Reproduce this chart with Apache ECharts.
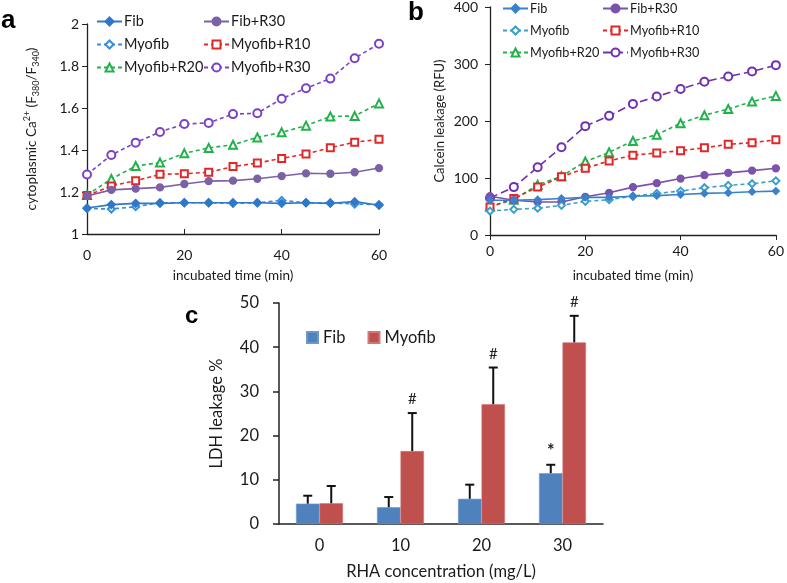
<!DOCTYPE html>
<html><head><meta charset="utf-8">
<script src="https://cdn.jsdelivr.net/npm/echarts@6/dist/echarts.min.js"></script>
<style>
html,body{margin:0;padding:0;background:#fff;width:787px;height:583px;overflow:hidden}
.c{position:absolute;left:0;top:0;width:787px;height:583px}
</style></head>
<body>
<div id="ca" class="c"></div><div id="cb" class="c"></div><div id="cc" class="c"></div>
<script>
// ---------- data ----------
const timeMin = [0,5,10,15,20,25,30,35,40,45,50,55,60];
// panel a : cytoplasmic Ca2+ ratio
const aFib        = [1.124,1.140,1.146,1.146,1.149,1.149,1.149,1.149,1.146,1.149,1.146,1.154,1.137];
const aFibR30     = [1.181,1.210,1.216,1.222,1.238,1.252,1.254,1.263,1.276,1.289,1.287,1.294,1.314];
const aMyofib     = [1.121,1.119,1.130,1.149,1.149,1.149,1.146,1.149,1.160,1.149,1.149,1.143,1.140];
const aMyofibR10  = [1.183,1.229,1.254,1.284,1.287,1.294,1.321,1.338,1.360,1.381,1.411,1.437,1.451];
const aMyofibR20  = [1.186,1.262,1.324,1.340,1.384,1.410,1.425,1.460,1.484,1.516,1.560,1.562,1.622];
const aMyofibR30  = [1.283,1.376,1.435,1.486,1.524,1.529,1.571,1.575,1.644,1.694,1.740,1.837,1.906];
// panel b : calcein leakage (RFU)
const bFib        = [61,61,62,64,66,66,68,69,71,73,74,76,77];
const bFibR30     = [68,61,58,58,67,74,84,91,99,105,109,113,117];
const bMyofib     = [42,45,47,52,59,62,68,73,77,83,87,90,95];
const bMyofibR10  = [49,64,84,102,117,130,140,144,148,153,159,162,167];
const bMyofibR20  = [50,62,88,103,129,145,165,176,196,210,221,234,244];
const bMyofibR30  = [65,84,119,154,191,209,230,243,256,269,278,287,298];
// panel c : LDH leakage %
const rhaConc     = ['0','10','20','30'];
const cFib        = [4.6,3.8,5.7,11.5];
const cFibErr     = [1.8,2.3,3.2,1.9];
const cMyofib     = [4.7,16.5,27.1,41.1];
const cMyofibErr  = [3.9,8.6,8.3,6.0];
const cFibMark    = ['','','','*'];
const cMyofibMark = ['','#','#','#'];

const FONT = 'Lato';
const TXT = '#1a1a1a';
const AX = '#222';

function pairs(arr){ return arr.map((v,i)=>[timeMin[i], v]); }

function lineSeries(name, data, color, symbol, dashed, size, dash){
  return {
    name, type:'line', data:pairs(data), symbol, symbolSize:size||7, showAllSymbol:true,
    lineStyle:{color, width:1.6, type: dashed ? (dash||[4,3]) : 'solid'},
    itemStyle:{color, borderColor:color, borderWidth:1.3},
    emphasis:{disabled:true}, animation:false
  };
}

function legends(positions, fs){
  return positions.map(p=>({
    data:[p.name], left:p.x, top:p.y, itemWidth:25, itemHeight:10, itemGap:0,
    textStyle:{fontFamily:FONT, fontSize:fs, color:TXT, padding:[0,0,0,-3]},
    selectedMode:false, padding:0
  }));
}

// ---------- panel a ----------
const colA = {fib:'#2F78C9', fibR30:'#7B62A6', myo:'#3A8CD6', r10:'#E02828', r20:'#22B24C', r30:'#7C42C6'};
const chartA = echarts.init(document.getElementById('ca'), null, {renderer:'canvas'});
chartA.setOption({
  animation:false,
  graphic:[{type:'text', left:1, top:8, style:{text:'a', font:'bold 26px Arial', fill:'#000'}}],
  grid:{left:87, top:24, width:292, height:210},
  legend: legends([
    {name:'Fib', x:96, y:14},{name:'Fib+R30', x:203, y:14},
    {name:'Myofib', x:96, y:37},{name:'Myofib+R10', x:203, y:37},
    {name:'Myofib+R20', x:96, y:60},{name:'Myofib+R30', x:203, y:60}
  ], 14.5),
  xAxis:{type:'value', min:0, max:60, interval:20,
    name:'incubated time (min)', nameLocation:'middle', nameGap:35,
    nameTextStyle:{fontFamily:FONT, fontSize:13.5, color:TXT},
    axisLine:{lineStyle:{color:AX, width:1.3}}, axisTick:{inside:true, length:5, lineStyle:{color:AX}},
    axisLabel:{fontFamily:FONT, fontSize:14, color:TXT, margin:14}, splitLine:{show:false}},
  yAxis:{type:'value', min:1, max:2, interval:0.2,
    name:'{n|cytoplasmic Ca}{sup|2+}{n| (F}{sub|380}{n|/F}{sub|340}{n|)}', nameLocation:'middle', nameGap:46,
    nameTextStyle:{fontFamily:FONT, fontSize:13.5, color:TXT, rich:{
      n:{fontFamily:FONT, fontSize:13.5, color:TXT, lineHeight:18},
      sup:{fontFamily:FONT, fontSize:9, color:TXT, verticalAlign:'top', lineHeight:18},
      sub:{fontFamily:FONT, fontSize:9, color:TXT, verticalAlign:'bottom', lineHeight:18}}},
    axisLine:{show:true, lineStyle:{color:AX, width:1.3}}, axisTick:{show:true, length:5, lineStyle:{color:AX}},
    axisLabel:{fontFamily:FONT, fontSize:14, color:TXT, margin:8,
      formatter:v=>String(Math.round(v*10)/10)}, splitLine:{show:false}},
  series:[
    lineSeries('Myofib+R30', aMyofibR30, colA.r30, 'emptyCircle', true, 8),
    lineSeries('Myofib+R20', aMyofibR20, colA.r20, 'emptyTriangle', true, 8),
    lineSeries('Myofib+R10', aMyofibR10, colA.r10, 'emptyRect', true, 7),
    lineSeries('Fib+R30', aFibR30, colA.fibR30, 'circle', false, 7),
    lineSeries('Myofib', aMyofib, colA.myo, 'emptyDiamond', true, 7),
    lineSeries('Fib', aFib, colA.fib, 'diamond', false, 8)
  ]
});

// ---------- panel b ----------
const colB = {fib:'#3A82CC', fibR30:'#7B52AE', myo:'#3C9EC8', r10:'#E02828', r20:'#22B24C', r30:'#7030B0'};
const chartB = echarts.init(document.getElementById('cb'), null, {renderer:'canvas'});
chartB.setOption({
  animation:false,
  graphic:[{type:'text', left:408, top:0, style:{text:'b', font:'bold 26px Arial', fill:'#000'}}],
  grid:{left:490, top:6, width:288, height:229},
  legend: legends([
    {name:'Fib', x:502, y:2},{name:'Fib+R30', x:602, y:2},
    {name:'Myofib', x:502, y:24},{name:'Myofib+R10', x:602, y:24},
    {name:'Myofib+R20', x:502, y:46},{name:'Myofib+R30', x:602, y:46}
  ], 12.7),
  xAxis:{type:'value', min:0, max:60, interval:20,
    name:'incubated time (min)', nameLocation:'middle', nameGap:34,
    nameTextStyle:{fontFamily:FONT, fontSize:13.5, color:TXT},
    axisLine:{lineStyle:{color:AX, width:1.3}}, axisTick:{length:5, lineStyle:{color:AX}},
    axisLabel:{fontFamily:FONT, fontSize:14, color:TXT, margin:9}, splitLine:{show:false}},
  yAxis:{type:'value', min:0, max:400, interval:100,
    name:'Calcein leakage (RFU)', nameLocation:'middle', nameGap:44,
    nameTextStyle:{fontFamily:FONT, fontSize:13, color:TXT},
    axisLine:{show:true, lineStyle:{color:AX, width:1.3}}, axisTick:{show:true, length:5, lineStyle:{color:AX}},
    axisLabel:{fontFamily:FONT, fontSize:14, color:TXT, margin:12}, splitLine:{show:false}},
  series:[
    lineSeries('Myofib+R30', bMyofibR30, colB.r30, 'emptyCircle', true, 8, [8,4]),
    lineSeries('Myofib+R20', bMyofibR20, colB.r20, 'emptyTriangle', true, 8),
    lineSeries('Myofib+R10', bMyofibR10, colB.r10, 'emptyRect', true, 7),
    lineSeries('Fib+R30', bFibR30, colB.fibR30, 'circle', false, 7),
    lineSeries('Myofib', bMyofib, colB.myo, 'emptyDiamond', true, 7),
    lineSeries('Fib', bFib, colB.fib, 'diamond', false, 7)
  ]
});

// ---------- panel c ----------
const GAP = 0.42;
function errSeries(vals, errs, marks, side){
  return {
    type:'custom', z:5, animation:false,
    renderItem(params, api){
      const i = api.value(0), v = api.value(1), e = api.value(2);
      const catW = api.size([1,0])[0];
      const bw = catW*(1-GAP)/2;
      const base = api.coord([i, v]);
      const x = base[0] + side*bw/2;
      const top = api.coord([i, v+e])[1];
      const ch = [
        {type:'line', shape:{x1:x, y1:base[1], x2:x, y2:top}, style:{stroke:'#111', lineWidth:2}},
        {type:'line', shape:{x1:x-4.5, y1:top, x2:x+4.5, y2:top}, style:{stroke:'#111', lineWidth:2}}
      ];
      const m = marks[params.dataIndex];
      if (m) ch.push({type:'text', x:x, y:top-(m==='*'?5:6), style:{text:m, fill:'#222',
        font:(m==='*'?'bold 18px ':'15px ')+FONT, textAlign:'center', textVerticalAlign:'bottom'}});
      return {type:'group', children:ch};
    },
    data: vals.map((v,i)=>[i, v, errs[i]])
  };
}
const chartC = echarts.init(document.getElementById('cc'), null, {renderer:'canvas'});
chartC.setOption({
  animation:false,
  graphic:[{type:'text', left:185, top:304, style:{text:'c', font:'bold 24px Arial', fill:'#000'}}],
  grid:{left:279, top:303, width:324, height:221},
  legend:{data:['Fib','Myofib'], left:306, top:329, itemWidth:11, itemHeight:11, itemGap:22,
    icon:'rect', selectedMode:false, padding:0,
    textStyle:{fontFamily:FONT, fontSize:16.5, color:TXT}},
  xAxis:{type:'category', data:rhaConc,
    name:'RHA concentration (mg/L)', nameLocation:'middle', nameGap:39,
    nameTextStyle:{fontFamily:FONT, fontSize:16.5, color:TXT},
    axisLine:{lineStyle:{color:AX, width:1.5}}, axisTick:{length:5, lineStyle:{color:AX, width:1.5}},
    axisLabel:{fontFamily:FONT, fontSize:16.5, color:TXT, margin:13}},
  yAxis:{type:'value', min:0, max:50, interval:10,
    name:'LDH leakage %', nameLocation:'middle', nameGap:54,
    nameTextStyle:{fontFamily:FONT, fontSize:16.5, color:TXT},
    axisLine:{show:true, lineStyle:{color:AX, width:1.5}}, axisTick:{show:true, length:6, lineStyle:{color:AX, width:1.5}},
    axisLabel:{fontFamily:FONT, fontSize:16.5, color:TXT, margin:20}, splitLine:{show:false}},
  series:[
    {name:'Fib', type:'bar', data:cFib, barGap:'0%', barCategoryGap:(GAP*100)+'%',
      itemStyle:{color:'#4F81BD', borderColor:'#6E97CB', borderWidth:0.6}},
    {name:'Myofib', type:'bar', data:cMyofib, barGap:'0%', barCategoryGap:(GAP*100)+'%',
      itemStyle:{color:'#C0504D', borderColor:'#D27774', borderWidth:0.6}},
    errSeries(cFib, cFibErr, cFibMark, -1),
    errSeries(cMyofib, cMyofibErr, cMyofibMark, 1)
  ]
});
</script>
</body></html>
